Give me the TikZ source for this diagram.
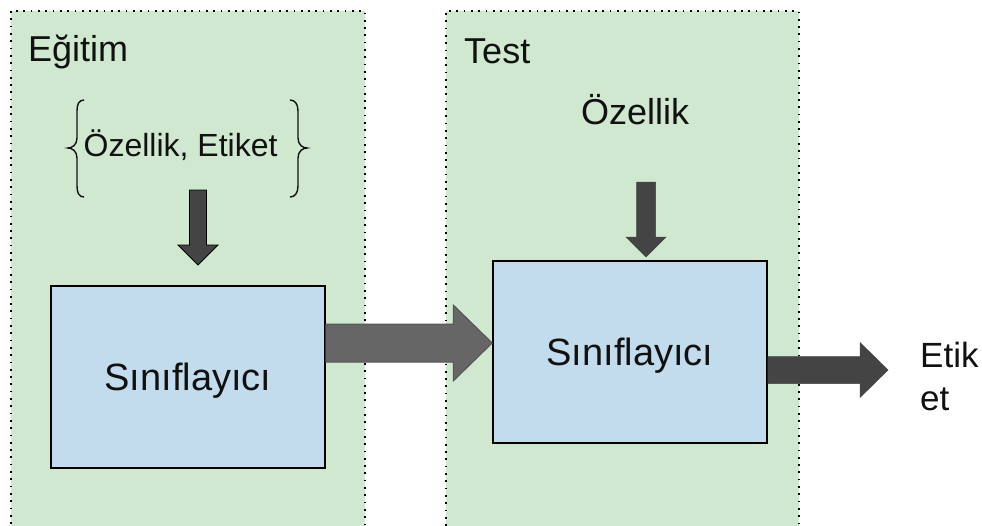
\documentclass[tikz,border=0pt]{standalone}
\usepackage{fontspec}
\setmainfont{Liberation Sans}
\usetikzlibrary{calc}
\definecolor{panelgreen}{HTML}{D0E7D0}
\definecolor{boxblue}{HTML}{C2DCEE}
\definecolor{arrowdark}{HTML}{444444}
\definecolor{arrowmid}{HTML}{666666}
\definecolor{arrowedge}{HTML}{555555}
\definecolor{inktext}{HTML}{111111}
\begin{document}
\begin{tikzpicture}[x=1pt,y=-1pt,
  panel/.style={draw=black, fill=panelgreen, line width=1.7pt,
    dash pattern=on 1.7pt off 5.6pt, inner sep=0pt, anchor=north west},
  clsbox/.style={draw=black, fill=boxblue, line width=1.5pt,
    minimum width=274pt, minimum height=182pt, inner sep=0pt,
    text depth=0pt, text=inktext, font=\fontsize{38}{46}\selectfont},
  lbl/.style={inner sep=0pt, anchor=base west, text=inktext,
    font=\fontsize{36}{43}\selectfont},
  bracestroke/.style={draw=inktext, line width=1.4pt},
  downarrowA/.style={fill=arrowdark, draw=black, line width=0.8pt},
  downarrowB/.style={fill=arrowdark, draw=arrowdark, line width=0.5pt},
  bigarrow/.style={fill=arrowmid, draw=arrowedge, line width=1pt},
  outarrow/.style={fill=arrowdark, draw=arrowdark, line width=0.5pt}
]
\useasboundingbox (0,0) rectangle (982,525);

% panels
\node[panel, minimum width=354pt, minimum height=540pt] (train) at (10,10) {};
\node[panel, minimum width=353pt, minimum height=540pt] (test) at (445,10) {};

% panel titles
\node[lbl] (traintitle) at (28,61) {Eğitim};
\node[lbl] (testtitle) at (464,63) {Test};

% inputs
\node[lbl, font=\fontsize{32}{38}\selectfont] (trainin) at (83.5,156) {Özellik, Etiket};
\node[lbl] (testin) at (581,124) {Özellik};

% braces
\draw[bracestroke] (84,100) .. controls (79,100) and (77,104) .. (77,111) -- (77,138)
  .. controls (77,145) and (72,148) .. (68,148)
  .. controls (72,148) and (77,151) .. (77,158) -- (77,186)
  .. controls (77,193) and (79,197) .. (84,197);
\draw[bracestroke] (290,100) .. controls (295,100) and (298,104) .. (298,111) -- (298,138)
  .. controls (298,145) and (303,148) .. (307,148)
  .. controls (303,148) and (298,151) .. (298,158) -- (298,186)
  .. controls (298,193) and (295,197) .. (290,197);

% classifier boxes
\node[clsbox] (lbox) at (188,377) {Sınıflayıcı};
\node[clsbox] (rbox) at (630,352) {Sınıflayıcı};

% down arrows
\coordinate (d1s) at (198,190);
\coordinate (d1e) at (198,265);
\draw[downarrowA] ($(d1s)+(-8.5,0)$) -- ($(d1e)+(-8.5,-20)$) -- ($(d1e)+(-20,-20)$) -- (d1e)
  -- ($(d1e)+(20,-20)$) -- ($(d1e)+(8.5,-20)$) -- ($(d1s)+(8.5,0)$) -- cycle;
\coordinate (d2s) at (646,182);
\coordinate (d2e) at (646,257);
\draw[downarrowB] ($(d2s)+(-9.5,0)$) -- ($(d2e)+(-9.5,-20)$) -- ($(d2e)+(-20,-20)$) -- (d2e)
  -- ($(d2e)+(20,-20)$) -- ($(d2e)+(9.5,-20)$) -- ($(d2s)+(9.5,0)$) -- cycle;

% big arrow between classifiers
\coordinate (a1s) at ([yshift=34pt]lbox.east);
\coordinate (a1e) at ([yshift=9pt]rbox.west);
\draw[bigarrow] ($(a1s)+(0,-19)$) -- ($(a1e)+(-39,-19)$) -- ($(a1e)+(-39,-38)$) -- (a1e)
  -- ($(a1e)+(-39,38)$) -- ($(a1e)+(-39,19)$) -- ($(a1s)+(0,19)$) -- cycle;

% output arrow
\coordinate (a2s) at ([yshift=-18pt]rbox.east);
\coordinate (a2e) at (888,370);
\draw[outarrow] ($(a2s)+(0,-13.5)$) -- ($(a2e)+(-28,-13.5)$) -- ($(a2e)+(-28,-27.5)$) -- (a2e)
  -- ($(a2e)+(-28,27.5)$) -- ($(a2e)+(-28,13.5)$) -- ($(a2s)+(0,13.5)$) -- cycle;

% output label
\node[lbl, anchor=north west, align=left, font=\fontsize{35}{43}\selectfont] (outlbl) at (920,342) {Etik\\et};
\end{tikzpicture}
\end{document}
